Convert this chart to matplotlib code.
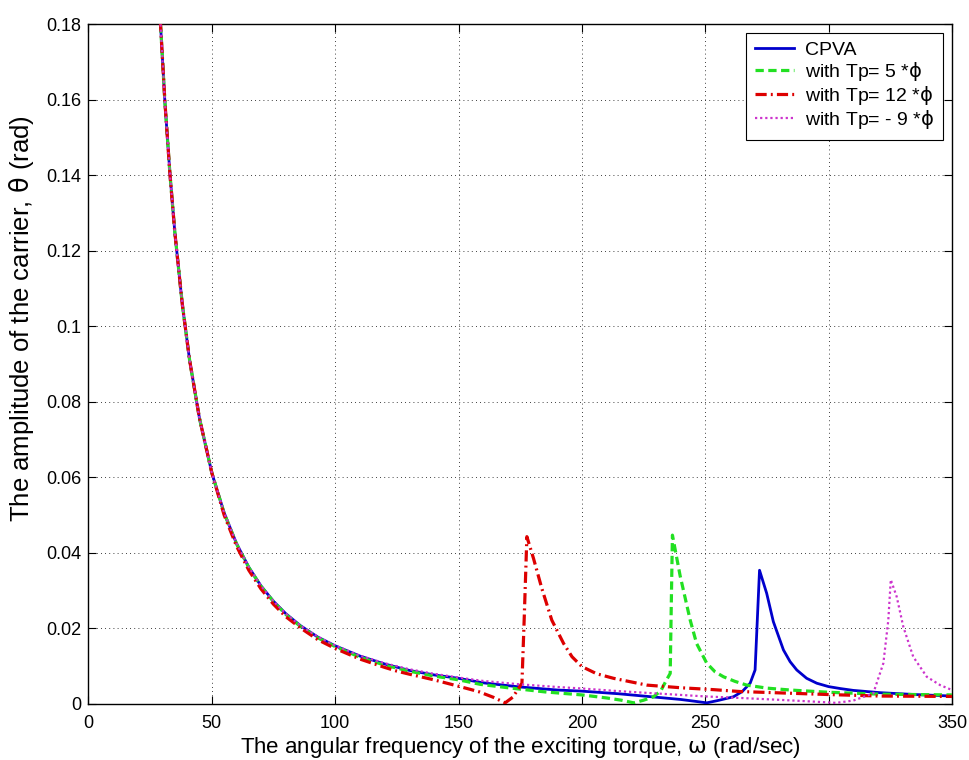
import numpy as np
import matplotlib
matplotlib.use('Agg')
import matplotlib.pyplot as plt

plt.rcParams['font.family'] = ['Liberation Sans', 'DejaVu Sans']
plt.rcParams['mathtext.fontset'] = 'dejavusans'

# shared steep 1/w^2 start (all four curves overlap here)
omega_common = [28.5, 31, 33, 35, 38, 41, 45, 50]
theta_common = [0.188, 0.1592, 0.1405, 0.1249, 0.1060, 0.0910, 0.0756, 0.0612]

# CPVA (blue, solid)
omega_cpva = [55, 60, 65, 70, 75, 80, 86, 93, 100, 110, 120, 130, 140, 150, 160, 175,
              190, 200, 215, 230, 240, 246, 250.6, 255, 261.4, 265, 268.2, 270.2, 271.1,
              272, 274.9, 277.6, 281.7, 284.4, 287.1, 291.1, 295.2, 300, 304.6, 310, 320.8,
              335, 350]
theta_cpva = [0.0506, 0.0425, 0.0362, 0.0312, 0.0272, 0.0239, 0.0207, 0.0177, 0.0154, 0.0127,
              0.0106, 0.0089, 0.0077, 0.0068, 0.0056, 0.0045, 0.0037, 0.0034, 0.0027, 0.0018,
              0.0012, 0.0007, 0.0003, 0.0009, 0.0019, 0.0033, 0.0055, 0.0090, 0.0222, 0.0354,
              0.0293, 0.0218, 0.0143, 0.0112, 0.0090, 0.0068, 0.0055, 0.0046, 0.0041, 0.0036,
              0.0030, 0.0025, 0.0021]

# Tp = 5*phi (green, dashed)
omega_tp5 = [55, 60, 65, 70, 75, 80, 86, 93, 100, 110, 120, 130, 140, 150, 158.8, 170, 185,
             200, 210, 216, 221, 225, 229, 232, 234, 235.8, 236.2, 236.7, 239.8, 243.9, 246.5,
             250.6, 254, 257.4, 262, 266.8, 275, 284.4, 300, 320.8, 335, 350]
theta_tp5 = [0.0505, 0.0424, 0.0361, 0.0311, 0.0271, 0.0237, 0.0205, 0.0175, 0.0152, 0.0124,
             0.0103, 0.0087, 0.0074, 0.0064, 0.0052, 0.0043, 0.0032, 0.0024, 0.0016, 0.0010,
             0.0003, 0.0010, 0.0019, 0.0035, 0.0060, 0.0081, 0.0250, 0.0447, 0.0340, 0.0222,
             0.0160, 0.0108, 0.0085, 0.0072, 0.0060, 0.0050, 0.0042, 0.0037, 0.0031, 0.0026,
             0.0025, 0.0024]

# Tp = 12*phi (red, dash-dot)
omega_tp12 = [55, 60, 65, 70, 75, 80, 86, 93, 100, 110, 120, 125, 130, 140, 150, 158, 164,
              168.9, 172, 175.7, 176.6, 177.7, 180.4, 183.8, 187.8, 192.6, 196, 200, 206, 212.8,
              226.3, 240, 253.3, 264, 277.5, 300, 320.8, 350]
theta_tp12 = [0.0500, 0.0418, 0.0354, 0.0304, 0.0264, 0.0231, 0.0201, 0.0170, 0.0147, 0.0119,
              0.0097, 0.0087, 0.0079, 0.0064, 0.0047, 0.0033, 0.0018, 0.0003, 0.0018, 0.0055,
              0.0222, 0.0443, 0.0385, 0.0305, 0.0222, 0.0160, 0.0125, 0.0099, 0.0080, 0.0068,
              0.0050, 0.0043, 0.0038, 0.0033, 0.0030, 0.0025, 0.0021, 0.0020]

# Tp = -9*phi (magenta, dotted)
omega_tpm9 = [55, 60, 65, 70, 75, 80, 86, 93, 100, 110, 120, 130, 140, 150, 160, 175, 190,
              200, 215, 230, 250, 264, 280, 292, 303, 310, 318.1, 322.2, 324.2, 325.2, 327.6,
              330.3, 334.3, 339.8, 345.2, 350]
theta_tpm9 = [0.0506, 0.0425, 0.0362, 0.0312, 0.0272, 0.0239, 0.0207, 0.0178, 0.0155, 0.0128,
              0.0108, 0.0092, 0.0080, 0.0070, 0.0061, 0.0052, 0.0045, 0.0041, 0.0034, 0.0028,
              0.0020, 0.0016, 0.0011, 0.0007, 0.0003, 0.0009, 0.0028, 0.0108, 0.0222, 0.0329,
              0.0284, 0.0204, 0.0125, 0.0072, 0.0050, 0.0037]

labels = ['CPVA', 'with Tp= 5 *$\\mathrm{\\phi}$', 'with Tp= 12 *$\\mathrm{\\phi}$',
          'with Tp= - 9 *$\\mathrm{\\phi}$']

x_ticks = [0, 50, 100, 150, 200, 250, 300, 350]
y_ticks = [0, 0.02, 0.04, 0.06, 0.08, 0.1, 0.12, 0.14, 0.16, 0.18]
y_tick_labels = ['0', '0.02', '0.04', '0.06', '0.08', '0.1', '0.12', '0.14', '0.16', '0.18']

fig = plt.figure(figsize=(9.7, 7.6), dpi=100)
ax = fig.add_axes([0.0912, 0.0737, 0.8902, 0.8947])

ax.plot(omega_common + omega_cpva, theta_common + theta_cpva, color='#0000cc',
        lw=2.0, ls='-', label=labels[0], zorder=3)
ax.plot(omega_common + omega_tp5, theta_common + theta_tp5, color='#22e022',
        lw=2.3, ls=(0, (2.6, 1.4)), label=labels[1], zorder=3)
ax.plot(omega_common + omega_tp12, theta_common + theta_tp12, color='#dd0000',
        lw=2.3, ls=(0, (3.5, 1.3, 0.6, 1.3)), label=labels[2], zorder=3)
ax.plot(omega_common + omega_tpm9, theta_common + theta_tpm9, color='#cc33cc',
        lw=1.6, ls=(0, (1, 1.3)), label=labels[3], zorder=3)

ax.set_xlim(0, 350)
ax.set_ylim(0, 0.18)
ax.set_xticks(x_ticks)
ax.set_xticklabels([str(t) for t in x_ticks])
ax.set_yticks(y_ticks)
ax.set_yticklabels(y_tick_labels)
ax.tick_params(direction='in', length=6, width=0.8, top=True, right=True, labelsize=13)
ax.tick_params(axis='x', pad=8)
ax.tick_params(axis='y', pad=5)
ax.grid(True, color='black', ls=(0, (1, 4)), lw=0.6)
for sp in ax.spines.values():
    sp.set_linewidth(1.0)

ax.set_xlabel('The angular frequency of the exciting torque, $\\mathrm{\\omega}$ (rad/sec)',
              fontsize=16)
ax.xaxis.set_label_coords(0.5, -0.046)
ax.set_ylabel('The amplitude of the carrier, $\\mathrm{\\theta}$ (rad)', fontsize=18.5)
ax.yaxis.set_label_coords(-0.061, 0.567)

leg = ax.legend(loc='upper right', fontsize=14, fancybox=False, framealpha=1,
                edgecolor='black', borderaxespad=0.45, handlelength=2.0,
                handletextpad=0.6, labelspacing=0.05, borderpad=0.45)
leg.get_frame().set_linewidth(0.8)

fig.savefig('out.png', dpi=100)
